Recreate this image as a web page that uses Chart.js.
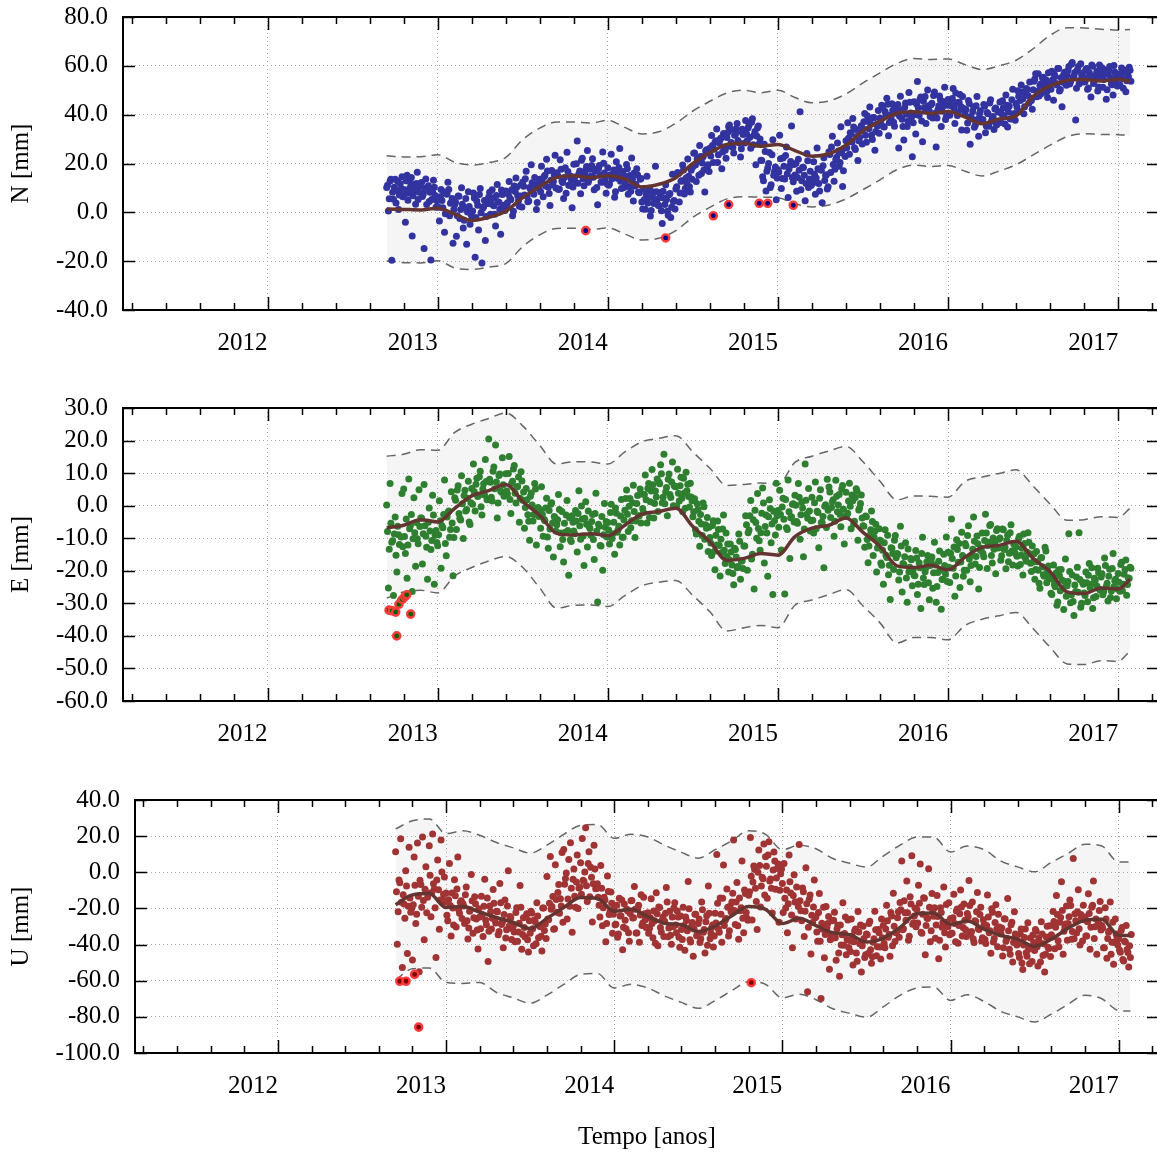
<!DOCTYPE html>
<html>
<head>
<meta charset="utf-8">
<script src="https://cdn.jsdelivr.net/npm/chart.js@4.4.1/dist/chart.umd.min.js"></script>
<style>
  html, body { margin: 0; padding: 0; background: #fff; overflow: hidden; }
  canvas { position: absolute; left: 0; }
</style>
</head>
<body>
<canvas id="chartN" width="1160" height="390" style="top:0"></canvas>
<canvas id="chartE" width="1160" height="390" style="top:390px"></canvas>
<canvas id="chartU" width="1160" height="373" style="top:780px"></canvas>
<script>
// year tick labels on the time axis
const xYears = [2012, 2013, 2014, 2015, 2016, 2017];
const yTicksN = [-40, -20, 0, 20, 40, 60, 80];
const yTicksE = [-60, -50, -40, -30, -20, -10, 0, 10, 20, 30];
const yTicksU = [-100, -80, -60, -40, -20, 0, 20, 40];

// epochs of the smoothed model curve and its envelope
const bandYears = [2012.7, 2012.8, 2012.9, 2013.0, 2013.1, 2013.2, 2013.3, 2013.4, 2013.5, 2013.6,
  2013.7, 2013.8, 2013.9, 2014.0, 2014.1, 2014.2, 2014.3, 2014.4, 2014.5, 2014.6,
  2014.7, 2014.8, 2014.9, 2015.0, 2015.1, 2015.2, 2015.3, 2015.4, 2015.5, 2015.6,
  2015.7, 2015.8, 2015.9, 2016.0, 2016.1, 2016.2, 2016.3, 2016.4, 2016.5, 2016.6,
  2016.7, 2016.8, 2016.9, 2017.0, 2017.07];

const nLine = [1.4, 1.2, 1.0, 1.7, -0.7, -3.3, -2.0, 0.5, 6.0, 10.6, 14.3, 15.0, 14.2, 15.0, 13.7, 10.4, 11.5, 14.2, 20.0, 24.5,
  27.8, 28.3, 27.1, 27.8, 25.3, 23.0, 24.0, 27.5, 33.3, 37.3, 40.6, 41.2, 40.5, 41.3, 39.0, 36.3, 38.2, 39.5, 47.5, 51.8,
  54.0, 54.4, 53.8, 54.5, 53.6];
const nUpper = [23.2, 22.7, 22.8, 23.6, 20.5, 19.4, 20.3, 22.5, 29.8, 34.5, 37.0, 37.0, 36.6, 37.7, 34.8, 32.1, 33.0, 36.5, 41.5, 45.5,
  48.9, 50.0, 49.0, 50.0, 47.0, 44.9, 45.6, 48.5, 53.0, 57.1, 61.0, 63.0, 62.6, 62.8, 60.5, 58.5, 60.0, 62.3, 67.0, 72.5,
  75.6, 75.5, 75.0, 74.6, 74.9];
const nLower = [-19.9, -20.6, -20.7, -19.8, -22.8, -23.4, -22.4, -21.0, -14.0, -9.2, -6.6, -6.5, -7.0, -6.4, -8.9, -11.3, -10.6, -7.5, -2.0, 2.0,
  5.5, 6.4, 6.2, 6.0, 3.5, 2.2, 3.0, 5.5, 9.3, 13.3, 17.5, 19.3, 18.8, 19.2, 16.8, 14.9, 16.9, 19.5, 23.5, 27.5,
  31.0, 32.2, 31.9, 31.8, 31.5];

const eLine = [-6.8, -6.0, -4.3, -5.0, -0.8, 3.0, 4.6, 6.5, 1.3, -3.0, -8.5, -9.0, -8.6, -9.2, -6.0, -2.6, -1.8, -0.8, -6.4, -11.1,
  -16.8, -16.2, -14.7, -15.2, -9.5, -6.9, -6.0, -3.8, -8.2, -12.5, -18.5, -19.0, -18.3, -19.7, -15.8, -12.8, -12.2, -10.9, -16.2, -20.3,
  -26.5, -27.0, -25.3, -25.6, -22.6];
const eUpper = [15.2, 15.8, 17.2, 17.0, 22.5, 25.0, 26.8, 28.5, 24.5, 18.5, 12.8, 13.5, 13.4, 12.8, 16.5, 19.6, 20.7, 21.5, 16.5, 11.5,
  6.2, 6.5, 7.0, 6.5, 13.3, 15.2, 16.8, 18.2, 13.5, 7.5, 1.8, 3.0, 2.9, 2.6, 7.5, 8.8, 9.9, 11.0, 6.0, 0.5,
  -4.5, -4.3, -3.4, -3.6, -0.8];
const eLower = [-28.4, -26.5, -26.0, -26.8, -21.6, -19.0, -17.0, -15.6, -19.0, -25.3, -31.5, -30.6, -30.5, -31.0, -27.6, -24.6, -23.5, -23.0, -27.6, -32.6,
  -38.5, -37.5, -36.8, -37.5, -30.6, -29.0, -27.3, -25.8, -30.8, -36.0, -42.2, -40.5, -40.5, -41.2, -36.8, -34.9, -33.8, -32.8, -37.8, -43.5,
  -48.6, -48.8, -47.6, -47.8, -44.6];

const uLine = [-18.0, -12.5, -11.8, -19.5, -19.0, -22.0, -25.0, -27.8, -31.2, -25.5, -19.5, -14.0, -14.5, -21.5, -20.5, -24.5, -28.2, -29.0, -32.8, -29.8,
  -24.0, -19.0, -20.5, -28.4, -25.5, -29.5, -33.5, -34.5, -38.6, -36.5, -30.5, -23.0, -22.5, -28.8, -27.0, -31.5, -35.0, -37.0, -41.0, -37.0,
  -31.0, -26.5, -26.0, -34.9, -35.0];
const uUpper = [24.0, 28.5, 29.5, 21.4, 23.0, 20.5, 16.5, 13.5, 10.6, 15.0, 21.0, 26.0, 26.5, 18.8, 21.0, 19.5, 15.0, 11.0, 7.8, 12.5,
  17.5, 23.0, 21.0, 12.5, 15.0, 13.0, 7.6, 5.0, 2.9, 9.0, 15.0, 19.5, 19.5, 11.2, 14.5, 12.5, 6.2, 3.0, 0.3, 5.5,
  10.5, 15.5, 14.5, 5.7, 5.7];
const uLower = [-59.5, -53.4, -53.0, -61.0, -61.5, -61.0, -66.5, -69.5, -72.5, -68.0, -62.0, -56.5, -56.0, -64.0, -62.0, -64.0, -68.5, -72.0, -75.3, -71.0,
  -65.5, -60.5, -62.0, -69.5, -67.5, -70.5, -75.5, -78.0, -80.2, -74.5, -68.1, -64.0, -63.5, -70.9, -67.8, -71.5, -77.0, -80.0, -82.8, -78.5,
  -73.0, -68.0, -70.0, -76.5, -76.8];

// observations: two interleaved series, one value every 0.01 yr each
const obsStart = 2012.70;
const obsStep = 0.01;
const obsStartB = 2012.705;

const nObs = [
  10.2, 0.5, 12.8, -19.6, 5.4, 13.5, 8.9, 1.2, 11.7, 14.6,
  9.4, -4.1, 15.2, 7.8, 12.1, -9.7, 10.6, 3.3, 16.4, 8.2,
  11.9, 6.5, -14.8, 13.7, 9.1, 4.4, -19.5, 8.3, 10.3, 2.1,
  5.8, -3.6, 9.4, 1.9, -8.2, 7.5, 12.3, -1.4, 4.1, -12.7,
  3.2, -9.8, 6.7, -2.5, 10.1, -6.4, 1.8, -13.1, 8.4, -4.9,
  -1.7, 7.9, -18.4, 4.6, -7.2, 9.8, -20.8, 2.3, -11.5, 5.1,
  6.3, -0.8, 9.2, 2.7, -5.6, 11.4, 4.1, -9.0, 7.3, 1.5,
  8.7, 3.9, 12.6, 5.2, -1.4, 10.8, 14.1, 6.8, 2.5, 11.3,
  12.4, 7.1, 16.8, 4.3, 10.2, 19.5, 8.6, 14.3, 1.2, 11.7,
  13.5, 18.9, 6.4, 15.2, 21.7, 10.3, 2.8, 17.1, 12.6, 23.4,
  16.2, 9.4, 21.5, 12.8, 5.7, 18.3, 24.6, 11.1, 14.9, 1.9,
  19.7, 12.3, 29.2, 15.8, 7.6, 22.1, 10.9, 17.4, 25.3, 13.6,
  14.8, 21.9, 9.3, 17.6, 3.1, 19.2, 12.4, 24.7, 16.1, 7.8,
  18.3, 11.6, 23.8, 15.4, 6.2, 20.7, 13.9, 26.1, 9.8, 16.7,
  12.2, 19.6, 7.4, 15.1, 22.3, 4.6, 10.8, 17.9, 8.3, 13.5,
  4.2, 9.7, 1.3, 14.8, 6.1, -1.5, 8.4, 3.6, 18.9, 5.3,
  2.7, 8.1, -4.6, 5.9, 11.3, 0.4, 7.2, -2.1, 15.6, 4.8,
  9.6, 16.3, 4.2, 12.7, 19.4, 7.5, 14.1, 21.8, 10.5, 17.2,
  18.7, 24.3, 12.6, 21.1, 27.4, 15.9, 22.8, 8.3, 25.6, 19.5,
  26.2, 31.5, 20.4, 28.7, 34.1, 23.6, 29.9, 17.8, 32.3, 25.4,
  30.6, 35.2, 27.1, 33.8, 24.3, 31.9, 36.4, 28.5, 22.7, 34.0,
  33.1, 37.6, 29.4, 35.8, 26.2, 38.3, 31.7, 19.5, 34.6, 28.1,
  21.3, 14.6, 27.9, 8.7, 18.2, 24.5, 11.3, 29.7, 16.8, 5.2,
  17.4, 31.6, 9.8, 22.3, 13.7, 26.8, 6.1, 19.2, 35.4, 12.5,
  15.3, 8.6, 21.7, 41.2, 12.9, 18.4, 4.7, 24.1, 10.2, 16.8,
  13.2, 20.7, 7.4, 26.3, 11.8, 17.5, 3.9, 22.4, 15.1, 9.6,
  24.8, 16.3, 31.2, 12.7, 21.5, 28.4, 18.9, 35.1, 10.6, 26.2,
  29.3, 36.7, 23.8, 32.1, 38.4, 26.5, 33.9, 21.2, 30.6, 35.5,
  34.2, 40.5, 28.7, 37.3, 43.1, 31.6, 38.8, 25.4, 36.1, 41.7,
  38.6, 43.9, 35.2, 41.3, 46.7, 31.4, 39.8, 44.5, 36.9, 42.1,
  42.4, 26.3, 47.5, 38.1, 29.6, 44.8, 35.2, 49.1, 40.7, 22.8,
  45.3, 32.1, 53.6, 39.7, 47.2, 28.9, 42.8, 36.4, 50.1, 41.5,
  44.1, 38.6, 49.3, 26.8, 41.9, 47.6, 35.2, 43.4, 51.2, 39.1,
  46.2, 39.8, 43.5, 50.7, 36.4, 44.9, 41.1, 48.3, 33.7, 42.6,
  40.3, 33.6, 45.8, 27.9, 38.2, 43.1, 35.7, 47.4, 31.2, 41.6,
  37.8, 44.2, 32.6, 40.9, 35.3, 46.1, 38.5, 33.9, 42.7, 36.4,
  41.2, 36.8, 45.7, 39.3, 48.1, 34.9, 43.6, 38.2, 50.4, 40.5,
  44.6, 49.8, 41.3, 52.1, 46.5, 43.2, 50.7, 47.9, 53.4, 45.8,
  50.2, 54.6, 47.3, 56.8, 51.9, 48.7, 55.3, 53.1, 49.4, 57.2,
  53.4, 57.8, 45.9, 55.6, 52.1, 58.9, 50.3, 43.2, 56.4, 54.7,
  56.2, 59.7, 53.5, 61.4, 55.8, 37.8, 58.3, 52.6, 60.9, 57.1,
  55.1, 58.6, 50.4, 57.3, 47.2, 59.8, 53.9, 56.5, 49.7, 60.3,
  54.8, 51.2, 58.4, 46.3, 56.9, 59.7, 52.7, 48.1, 57.5, 55.3,
  56.7, 52.3, 59.1, 50.8, 57.4, 53.9, 55.6, 58.2
];
const nObsB = [
  11.1, 5.6, 13.6, 8.2, 10.3, 3.8, 12.7, 7.1, 9.4, 6.4,
  7.5, 12.9, 4.9, 9.9, 14.3, 6.8, 8.7, 11.8, 5.3, 10.6,
  12.2, 7.4, 9.8, 3.2, 10.9, 8.2, 5.3, 13.1, 6.9, 4.7,
  2.1, 6.4, 4.8, 8.3, -0.6, 7.5, 9.4, 3.7, 5.7, 1.2,
  4.1, -1.4, 6.6, 1.2, 3.3, -3.2, 5.7, 0.1, 2.4, -0.6,
  0.5, 5.9, -2.1, 2.9, 7.3, -0.2, 1.7, 4.8, -1.7, 3.6,
  8.2, 3.4, 5.8, -0.8, 6.9, 4.2, 1.3, 9.1, 2.9, 0.7,
  3.1, 7.4, 5.8, 9.3, 0.4, 8.5, 10.4, 4.7, 6.7, 2.2,
  10.7, 13.8, 6.6, 4.6, 9.6, 12.1, 7.4, 11.3, 4.0, 9.9,
  8.4, 12.3, 14.6, 10.8, 16.9, 7.7, 13.1, 11.3, 15.4, 10.0,
  15.1, 9.6, 17.6, 12.2, 14.3, 7.8, 16.7, 11.1, 13.4, 10.4,
  14.5, 19.9, 11.9, 16.9, 21.3, 13.8, 15.7, 18.8, 12.3, 17.6,
  19.2, 14.4, 16.8, 10.2, 17.9, 15.2, 12.3, 20.1, 13.9, 11.7,
  11.1, 15.4, 13.8, 17.3, 8.4, 16.5, 18.4, 12.7, 14.7, 10.2,
  14.7, 17.8, 10.6, 8.6, 13.6, 16.1, 11.4, 15.3, 8.0, 13.9,
  1.4, 5.3, 7.6, 3.8, 9.9, 0.7, 6.1, 4.3, 8.4, 3.0,
  6.1, 0.6, 8.6, 3.2, 5.3, -1.2, 7.7, 2.1, 4.4, 1.4,
  10.5, 15.9, 7.9, 12.9, 17.3, 9.8, 11.7, 14.8, 8.3, 13.6,
  24.2, 19.4, 21.8, 15.2, 22.9, 20.2, 17.3, 25.1, 18.9, 16.7,
  23.1, 27.4, 25.8, 29.3, 20.4, 28.5, 30.4, 24.7, 26.7, 22.2,
  32.7, 35.8, 28.6, 26.6, 31.6, 34.1, 29.4, 33.3, 26.0, 31.9,
  28.4, 32.3, 34.6, 30.8, 36.9, 27.7, 33.1, 31.3, 35.4, 30.0,
  21.2, 12.9, 24.9, 16.8, 20.0, 10.2, 23.6, 15.2, 18.6, 14.1,
  16.5, 21.9, 13.9, 18.9, 23.3, 15.8, 17.7, 20.8, 14.3, 19.6,
  20.0, 14.3, 17.2, 9.2, 18.5, 15.2, 11.8, 21.1, 13.7, 11.0,
  11.9, 15.6, 14.1, 17.9, 8.7, 17.2, 19.1, 13.0, 15.4, 10.5,
  23.7, 26.8, 19.6, 17.6, 22.6, 25.1, 20.4, 24.3, 17.0, 22.9,
  26.4, 30.3, 32.6, 28.8, 34.9, 25.7, 31.1, 29.3, 33.4, 28.0,
  37.1, 31.6, 39.6, 34.2, 36.3, 29.8, 38.7, 33.1, 35.4, 32.4,
  37.5, 42.9, 34.9, 39.9, 44.3, 36.8, 38.7, 41.8, 35.3, 40.6,
  44.2, 39.4, 41.8, 35.2, 42.9, 40.2, 37.3, 45.1, 38.9, 36.7,
  40.1, 44.4, 42.8, 46.3, 37.4, 45.5, 47.4, 41.7, 43.7, 39.2,
  44.7, 47.8, 40.6, 38.6, 43.6, 46.1, 41.4, 45.3, 38.0, 43.9,
  40.4, 44.3, 46.6, 42.8, 48.9, 39.7, 45.1, 43.3, 47.4, 42.0,
  42.1, 36.6, 44.6, 39.2, 41.3, 34.8, 43.7, 38.1, 40.4, 37.4,
  38.0, 43.4, 35.4, 40.4, 44.8, 37.3, 39.2, 42.3, 35.8, 41.1,
  45.2, 40.4, 42.8, 36.2, 43.9, 41.2, 38.3, 46.1, 39.9, 37.7,
  43.1, 47.4, 45.8, 49.3, 40.4, 48.5, 50.4, 44.7, 46.7, 42.2,
  53.7, 56.8, 49.6, 47.6, 52.6, 55.1, 50.4, 54.3, 47.0, 52.9,
  50.4, 54.3, 56.6, 52.8, 58.9, 49.7, 55.1, 53.3, 57.4, 52.0,
  58.1, 52.6, 60.6, 55.2, 57.3, 50.8, 59.7, 54.1, 56.4, 53.4,
  53.5, 58.9, 50.9, 55.9, 60.3, 52.8, 54.7, 57.8, 51.3, 56.6,
  59.2, 54.4, 56.8, 50.2, 57.9, 55.2, 52.3, 60.1, 53.9, 51.7,
  52.1, 56.4, 54.8, 58.3, 49.4, 57.5, 59.4, 53.7
];

const eObs = [
  0.2, -25.3, 6.8, -11.2, -27.6, -3.5, -20.4, -8.9, -29.1, 3.7,
  5.1, -14.7, -22.3, 8.2, -6.1, -26.4, 2.4, -18.6, -10.2, 4.9,
  -3.8, -17.9, 6.5, -9.4, -22.6, -0.7, -13.5, 3.2, -24.1, -7.6,
  -12.3, 1.5, -19.2, -6.8, 7.9, -15.4, -2.1, -9.7, 4.3, -21.5,
  2.4, -7.3, 6.1, -3.9, 9.2, -10.1, 4.7, -1.2, 7.5, -5.8,
  5.3, 12.8, -1.6, 8.4, 3.1, 10.6, -2.9, 6.7, 14.2, 1.8,
  20.5, 7.2, 1.4, 11.9, 18.6, -3.8, 9.3, 4.5, 14.7, 2.9,
  9.8, 3.6, 15.1, -2.4, 7.5, 12.3, 0.8, 5.9, -5.1, 10.4,
  1.7, -6.9, 5.3, -2.8, -10.6, 3.9, -4.7, 6.8, -12.1, -0.6,
  -1.2, 5.8, -9.4, -4.6, 2.3, -13.1, -7.2, 0.9, -15.8, -3.7,
  -5.9, 3.4, -12.6, -1.8, -17.3, -8.2, 1.6, -21.4, -10.5, -3.1,
  -7.8, -1.5, -14.2, 4.6, -10.3, -4.1, -18.4, 1.2, -12.7, -6.4,
  -9.1, -2.7, -16.5, 3.8, -29.6, -6.3, -12.4, -19.8, 0.7, -4.9,
  -5.2, -11.8, 0.4, -8.6, -14.9, -2.3, -7.4, -12.1, 1.9, -9.7,
  -1.4, 4.8, -7.9, 2.2, -4.6, 6.3, -9.8, 0.7, -3.2, 5.1,
  3.6, -2.1, 9.4, -5.3, 6.8, 1.2, 11.1, -3.8, 4.5, 8.2,
  7.3, 12.6, 0.9, 15.8, 4.2, -3.1, 9.7, 2.5, 13.4, 6.1,
  5.8, 11.2, 1.4, 8.7, -1.9, 3.9, 10.3, 6.6, -0.4, 2.7,
  -3.4, 2.1, -8.7, -1.2, -12.5, -5.6, 0.8, -10.3, -6.9, -14.1,
  -9.8, -15.3, -4.6, -19.7, -12.1, -7.3, -21.6, -14.4, -2.9, -17.8,
  -15.6, -20.4, -11.8, -18.2, -24.3, -13.5, -19.1, -8.7, -22.6, -16.9,
  -12.4, -3.1, -19.8, -7.5, 1.6, -14.9, -25.6, -5.2, 3.7, -10.8,
  -8.3, 5.4, -17.6, -2.9, -21.7, 1.8, -11.4, -27.3, -4.6, 6.9,
  -1.5, 4.7, -13.6, 2.3, -27.1, -6.8, 7.9, -16.2, -3.4, 0.6,
  3.2, -4.9, 6.8, -10.3, 1.1, -15.7, 12.8, -2.6, 5.3, -7.8,
  2.6, -8.4, 7.3, -1.7, -12.9, 4.9, -5.2, -19.1, 0.3, 8.1,
  5.7, -3.6, 1.2, -9.4, 7.8, -1.9, 3.4, -6.5, 6.2, -11.8,
  4.1, -2.3, 6.9, -7.1, 1.5, -4.8, 5.2, -10.6, -0.7, 3.3,
  -6.2, -12.8, -3.4, -17.5, -9.1, -1.6, -15.3, -7.8, -20.4, -11.2,
  -10.6, -18.3, -24.1, -7.4, -15.9, -21.2, -28.8, -13.1, -19.6, -9.2,
  -14.7, -22.8, -6.3, -26.5, -18.1, -11.4, -29.7, -20.3, -16.2, -24.6,
  -21.4, -13.8, -27.3, -17.5, -31.6, -9.7, -24.2, -19.1, -15.3, -28.9,
  -16.8, -25.4, -11.2, -29.7, -20.5, -13.9, -31.8, -22.6, -18.4, -9.6,
  -14.3, -23.6, -4.1, -19.2, -27.8, -10.5, -17.4, -25.1, -8.2, -21.7,
  -11.6, -19.8, -6.2, -23.4, -15.1, -3.5, -17.9, -9.3, -25.6, -13.7,
  -8.4, -15.7, -2.6, -19.3, -11.2, -5.8, -17.6, -13.4, -20.9, -7.1,
  -10.3, -16.8, -7.2, -13.5, -19.4, -9.1, -14.6, -5.9, -18.2, -12.0,
  -12.7, -18.5, -9.4, -15.2, -21.3, -11.6, -17.1, -8.3, -14.8, -20.2,
  -17.3, -22.6, -14.1, -19.8, -25.4, -15.9, -21.2, -12.8, -23.7, -18.5,
  -21.5, -27.3, -18.2, -24.9, -30.6, -19.7, -26.1, -22.8, -31.9, -16.4,
  -24.6, -8.6, -29.8, -21.3, -33.7, -26.4, -18.9, -8.3, -31.2, -23.5,
  -26.8, -20.4, -29.5, -17.8, -24.1, -31.6, -22.3, -27.9, -19.2, -25.7,
  -21.9, -27.4, -16.1, -24.8, -29.3, -19.5, -26.2, -14.7, -23.1, -28.6,
  -20.8, -26.3, -17.4, -24.1, -19.6, -27.5, -22.2, -18.9
];
const eObsB = [
  -7.9, -13.4, -5.4, -10.8, -8.7, -15.2, -6.3, -11.9, -9.6, -12.6,
  -9.5, -4.1, -12.1, -7.1, -2.7, -10.2, -8.3, -5.2, -11.7, -6.4,
  -3.8, -8.6, -6.2, -12.8, -5.1, -7.8, -10.7, -2.9, -9.1, -11.3,
  -8.9, -4.6, -6.2, -2.7, -11.6, -3.5, -1.6, -7.3, -5.3, -9.8,
  1.7, 4.8, -2.4, -4.4, 0.6, 3.1, -1.6, 2.3, -5.0, 0.9,
  0.4, 4.3, 6.6, 2.8, 8.9, -0.3, 5.1, 3.3, 7.4, 2.0,
  8.1, 2.6, 10.6, 5.2, 7.3, 0.8, 9.7, 4.1, 6.4, 3.4,
  4.5, 9.9, 1.9, 6.9, 11.3, 3.8, 5.7, 8.8, 2.3, 7.6,
  4.2, -0.6, 1.8, -4.8, 2.9, 0.2, -2.7, 5.1, -1.1, -3.3,
  -6.9, -2.6, -4.2, -0.7, -9.6, -1.5, 0.4, -5.3, -3.3, -7.8,
  -4.3, -1.2, -8.4, -10.4, -5.4, -2.9, -7.6, -3.7, -11.0, -5.1,
  -8.6, -4.7, -2.4, -6.2, -0.1, -9.3, -3.9, -5.7, -1.6, -7.0,
  -4.9, -10.4, -2.4, -7.8, -5.7, -12.2, -3.3, -8.9, -6.6, -9.6,
  -7.5, -2.1, -10.1, -5.1, -0.7, -8.2, -6.3, -3.2, -9.7, -4.4,
  2.2, -2.6, -0.2, -6.8, 0.9, -1.8, -4.7, 3.1, -3.1, -5.3,
  -0.9, 3.4, 1.8, 5.3, -3.6, 4.5, 6.4, 0.7, 2.7, -1.8,
  6.7, 9.8, 2.6, 0.6, 5.6, 8.1, 3.4, 7.3, 0.0, 5.9,
  -0.1, 3.8, 6.1, 2.3, 8.4, -0.8, 4.6, 2.8, 6.9, 1.5,
  -1.9, -7.4, 0.6, -4.8, -2.7, -9.2, -0.3, -5.9, -3.6, -6.6,
  -11.5, -6.1, -14.1, -9.1, -4.7, -12.2, -10.3, -7.2, -13.7, -8.4,
  -11.8, -16.6, -14.2, -20.8, -13.1, -15.8, -18.7, -10.9, -17.1, -19.3,
  -12.4, -5.9, -8.3, -3.1, -16.4, -4.3, -1.4, -10.0, -7.0, -13.7,
  -2.3, 0.8, -6.4, -8.4, -3.4, -0.9, -5.6, -1.7, -9.0, -3.1,
  -6.6, -2.7, -0.4, -4.2, 1.9, -7.3, -1.9, -3.7, 0.4, -5.0,
  0.1, -5.4, 2.6, -2.8, -0.7, -7.2, 1.7, -3.9, -1.6, -4.6,
  -4.5, 0.9, -7.1, -2.1, 2.3, -5.2, -3.3, -0.2, -6.7, -1.4,
  4.2, -0.6, 1.8, -4.8, 2.9, 0.2, -2.7, 5.1, -1.1, -3.3,
  -2.9, 1.4, -0.2, 3.3, -5.6, 2.5, 4.4, -1.3, 0.7, -3.8,
  -6.3, -3.2, -10.4, -12.4, -7.4, -4.9, -9.6, -5.7, -13.0, -7.1,
  -17.6, -13.7, -11.4, -15.2, -9.1, -18.3, -12.9, -14.7, -10.6, -16.0,
  -14.9, -20.4, -12.4, -17.8, -15.7, -22.2, -13.3, -18.9, -16.6, -19.6,
  -21.5, -16.1, -24.1, -19.1, -14.7, -22.2, -20.3, -17.2, -23.7, -18.4,
  -15.8, -20.6, -18.2, -24.8, -17.1, -19.8, -22.7, -14.9, -21.1, -23.3,
  -18.9, -14.6, -16.2, -12.7, -21.6, -13.5, -11.6, -17.3, -15.3, -19.8,
  -12.3, -9.2, -16.4, -18.4, -13.4, -10.9, -15.6, -11.7, -19.0, -13.1,
  -14.6, -10.7, -8.4, -12.2, -6.1, -15.3, -9.9, -11.7, -7.6, -13.0,
  -9.9, -15.4, -7.4, -12.8, -10.7, -17.2, -8.3, -13.9, -11.6, -14.6,
  -15.5, -10.1, -18.1, -13.1, -8.7, -16.2, -14.3, -11.2, -17.7, -12.4,
  -14.8, -19.6, -17.2, -23.8, -16.1, -18.8, -21.7, -13.9, -20.1, -22.3,
  -26.9, -22.6, -24.2, -20.7, -29.6, -21.5, -19.6, -25.3, -23.3, -27.8,
  -23.3, -20.2, -27.4, -29.4, -24.4, -21.9, -26.6, -22.7, -30.0, -24.1,
  -27.6, -23.7, -21.4, -25.2, -19.1, -28.3, -22.9, -24.7, -20.6, -26.0,
  -20.9, -26.4, -18.4, -23.8, -21.7, -28.2, -19.3, -24.9, -22.6, -25.6,
  -23.5, -18.1, -26.1, -21.1, -16.7, -24.2, -22.3, -19.2
];

const uObs = [
  11.3, -39.8, -4.2, 18.6, -52.7, -17.5, 0.8, -44.9, 13.9, -22.1,
  -48.6, 8.4, -28.3, 16.2, -55.1, -6.7, 19.5, -37.4, 3.1, -13.8,
  14.7, -24.6, 21.2, -9.3, -47.1, 6.8, -31.5, 17.9, -15.2, -2.6,
  -11.4, -26.8, 4.9, -35.2, -19.7, -4.1, -30.3, 8.5, -22.6, -15.8,
  -17.3, -28.4, -8.1, -36.9, -21.5, -1.2, -33.7, -13.6, -25.9, -42.4,
  -24.8, -13.2, -35.6, -3.9, -29.1, -49.3, -18.7, -31.4, -9.5, -26.3,
  -21.6, -34.5, -6.2, -28.9, -41.7, -15.3, -31.8, 0.9, -24.4, -37.2,
  -29.7, -38.4, -19.6, -33.1, -7.3, -42.6, -25.2, -35.8, -22.9, -44.1,
  -33.8, -22.5, -40.7, -27.4, -16.9, -36.2, -30.1, -43.5, -19.8, -28.6,
  -2.4, -26.3, 8.7, -18.9, -31.5, 4.2, -22.1, -6.8, -14.6, 10.9,
  12.6, -3.5, -25.8, 7.1, 16.4, -33.2, 1.8, -19.4, 9.5, -8.7,
  5.3, 18.7, -4.9, 24.6, -16.2, 11.4, 2.8, -27.5, 14.9, -9.1,
  -6.4, -18.3, 3.7, -29.6, -13.8, -38.5, -2.1, -23.4, -10.9, -33.7,
  -19.2, -28.7, -35.9, -14.3, -24.1, -42.8, -17.6, -31.2, -21.4, -38.1,
  -15.8, -25.3, -7.9, -33.6, -20.2, -38.7, -12.4, -28.1, -22.9, -30.5,
  -22.4, -30.9, -14.7, -36.2, -26.8, -11.3, -40.6, -19.5, -33.1, -24.7,
  -27.1, -8.4, -35.7, -21.6, -39.8, -30.2, -16.9, -33.4, -24.8, -41.5,
  -31.6, -19.3, -43.2, -26.7, -5.1, -37.4, -29.8, -46.5, -23.2, -35.1,
  -28.4, -38.9, -16.5, -33.2, -44.7, -24.1, -7.6, -36.8, -30.5, -41.3,
  -22.6, 9.8, -31.4, -14.2, -38.7, 4.1, -26.5, -9.3, -35.2, -18.6,
  -16.4, 17.8, -28.9, -5.7, -37.1, -21.3, 6.2, -33.5, -11.8, -25.4,
  -12.7, 19.3, -26.4, 3.5, -8.9, -31.6, 12.4, -19.2, -2.8, 15.7,
  8.6, -14.3, 16.9, -3.7, -22.5, 11.2, -9.4, 2.1, -27.6, -0.8,
  -6.2, 4.8, -19.7, -33.4, 9.6, -11.5, -41.8, -1.3, -25.9, -16.4,
  15.4, -21.3, -8.7, -35.6, 2.5, -66.1, -14.9, -45.2, -27.8, -4.3,
  -24.6, -38.2, -11.7, -69.8, -31.5, -47.3, -18.9, -28.4, -53.6, -35.1,
  -36.4, -22.1, -48.7, -29.3, -57.5, -40.2, -16.8, -33.9, -45.6, -26.4,
  -37.8, -25.9, -51.3, -32.4, -44.6, -21.7, -39.5, -55.2, -29.8, -47.1,
  -34.2, -44.9, -27.1, -50.3, -38.7, -21.5, -46.2, -31.6, -41.4, -25.8,
  -29.5, -41.7, -18.3, -35.9, -46.4, -24.2, -11.6, -38.3, -32.7, -21.9,
  -16.7, 6.3, -31.2, -22.4, -4.8, -37.6, -13.5, 9.1, -27.9, -19.8,
  -20.6, -7.2, 4.6, -33.8, -14.1, -45.7, -25.3, 1.9, -38.4, -11.7,
  -24.3, -36.5, -12.9, -47.8, -19.6, -30.4, -8.2, -41.3, -27.5, -16.8,
  -25.6, -33.7, -12.1, -38.5, -20.3, -29.4, -9.8, -35.2, -17.6, -31.8,
  -22.8, -4.6, -34.1, -16.5, -38.9, -27.3, -11.2, -31.7, -19.4, -36.2,
  -28.7, -39.4, -12.6, -33.5, -44.8, -22.1, -36.7, -17.9, -41.2, -30.3,
  -33.9, -46.3, -25.7, -38.2, -14.5, -42.6, -29.1, -49.7, -21.8, -36.4,
  -39.6, -47.2, -31.4, -53.8, -36.1, -44.5, -27.9, -50.6, -41.8, -34.7,
  -43.3, -32.6, -51.9, -38.7, -27.4, -46.1, -55.2, -35.8, -41.5, -29.6,
  -34.5, -21.7, -42.3, -12.8, -37.9, -27.6, -5.2, -45.4, -30.1, -18.6,
  -28.3, -15.4, -37.1, 7.6, -22.9, -33.6, -9.7, -40.2, -25.1, -18.3,
  -24.7, -35.2, -11.9, -42.6, -19.3, -4.8, -30.1, -45.3, -27.6, -16.2,
  -29.4, -41.8, -19.6, -47.5, -33.2, -16.4, -38.7, -50.9, -25.8, -36.1,
  -36.8, -44.3, -30.5, -49.1, -38.6, -42.7, -52.4, -47.2
];
const uObsB = [
  -10.8, -21.8, -5.8, -16.6, -12.4, -25.4, -7.6, -18.8, -14.2, -20.2,
  -18.0, -7.2, -23.2, -13.2, -4.4, -19.4, -15.6, -9.4, -22.4, -11.8,
  -1.6, -11.2, -6.4, -19.6, -4.2, -9.6, -15.4, 0.2, -12.2, -16.6,
  -23.8, -15.2, -18.4, -11.4, -29.2, -13.0, -9.2, -20.6, -16.6, -25.6,
  -18.6, -12.4, -26.8, -30.8, -20.8, -15.8, -25.2, -17.4, -32.0, -20.2,
  -31.2, -23.4, -18.8, -26.4, -14.2, -32.6, -21.8, -25.4, -17.2, -28.0,
  -21.8, -32.8, -16.8, -27.6, -23.4, -36.4, -18.6, -29.8, -25.2, -31.2,
  -33.0, -22.2, -38.2, -28.2, -19.4, -34.4, -30.6, -24.4, -37.4, -26.8,
  -21.6, -31.2, -26.4, -39.6, -24.2, -29.6, -35.4, -19.8, -32.2, -36.6,
  -25.8, -17.2, -20.4, -13.4, -31.2, -15.0, -11.2, -22.6, -18.6, -27.6,
  -6.6, -0.4, -14.8, -18.8, -8.8, -3.8, -13.2, -5.4, -20.0, -8.2,
  -12.2, -4.4, 0.2, -7.4, 4.8, -13.6, -2.8, -6.4, 1.8, -9.0,
  -13.8, -24.8, -8.8, -19.6, -15.4, -28.4, -10.6, -21.8, -17.2, -23.2,
  -29.0, -18.2, -34.2, -24.2, -15.4, -30.4, -26.6, -20.4, -33.4, -22.8,
  -15.6, -25.2, -20.4, -33.6, -18.2, -23.6, -29.4, -13.8, -26.2, -30.6,
  -33.8, -25.2, -28.4, -21.4, -39.2, -23.0, -19.2, -30.6, -26.6, -35.6,
  -22.6, -16.4, -30.8, -34.8, -24.8, -19.8, -29.2, -21.4, -36.0, -24.2,
  -37.2, -29.4, -24.8, -32.4, -20.2, -38.6, -27.8, -31.4, -23.2, -34.0,
  -25.8, -36.8, -20.8, -31.6, -27.4, -40.4, -22.6, -33.8, -29.2, -35.2,
  -28.0, -17.2, -33.2, -23.2, -14.4, -29.4, -25.6, -19.4, -32.4, -21.8,
  -11.6, -21.2, -16.4, -29.6, -14.2, -19.6, -25.4, -9.8, -22.2, -26.6,
  -10.8, -2.2, -5.4, 1.6, -16.2, 0.0, 3.8, -7.6, -3.6, -12.6,
  3.4, 9.6, -4.8, -8.8, 1.2, 6.2, -3.2, 4.6, -10.0, 1.8,
  -22.2, -14.4, -9.8, -17.4, -5.2, -23.6, -12.8, -16.4, -8.2, -19.0,
  -15.8, -26.8, -10.8, -21.6, -17.4, -30.4, -12.6, -23.8, -19.2, -25.2,
  -33.0, -22.2, -38.2, -28.2, -19.4, -34.4, -30.6, -24.4, -37.4, -26.8,
  -26.6, -36.2, -31.4, -44.6, -29.2, -34.6, -40.4, -24.8, -37.2, -41.6,
  -43.8, -35.2, -38.4, -31.4, -49.2, -33.0, -29.2, -40.6, -36.6, -45.6,
  -34.6, -28.4, -42.8, -46.8, -36.8, -31.8, -41.2, -33.4, -48.0, -36.2,
  -39.2, -31.4, -26.8, -34.4, -22.2, -40.6, -29.8, -33.4, -25.2, -36.0,
  -20.8, -31.8, -15.8, -26.6, -22.4, -35.4, -17.6, -28.8, -24.2, -30.2,
  -28.0, -17.2, -33.2, -23.2, -14.4, -29.4, -25.6, -19.4, -32.4, -21.8,
  -19.6, -29.2, -24.4, -37.6, -22.2, -27.6, -33.4, -17.8, -30.2, -34.6,
  -33.8, -25.2, -28.4, -21.4, -39.2, -23.0, -19.2, -30.6, -26.6, -35.6,
  -24.6, -18.4, -32.8, -36.8, -26.8, -21.8, -31.2, -23.4, -38.0, -26.2,
  -37.2, -29.4, -24.8, -32.4, -20.2, -38.6, -27.8, -31.4, -23.2, -34.0,
  -30.8, -41.8, -25.8, -36.6, -32.4, -45.4, -27.6, -38.8, -34.2, -40.2,
  -45.0, -34.2, -50.2, -40.2, -31.4, -46.4, -42.6, -36.4, -49.4, -38.8,
  -31.6, -41.2, -36.4, -49.6, -34.2, -39.6, -45.4, -29.8, -42.2, -46.6,
  -35.8, -27.2, -30.4, -23.4, -41.2, -25.0, -21.2, -32.6, -28.6, -37.6,
  -24.6, -18.4, -32.8, -36.8, -26.8, -21.8, -31.2, -23.4, -38.0, -26.2,
  -35.2, -27.4, -22.8, -30.4, -18.2, -36.6, -25.8, -29.4, -21.2, -32.0,
  -30.8, -41.8, -25.8, -36.6, -32.4, -45.4, -27.6, -38.8, -34.2, -40.2,
  -43.0, -32.2, -48.2, -38.2, -29.4, -44.4, -40.6, -34.4
];

// rejected observations (outliers)
const nOutX = [2013.87, 2014.34, 2014.62, 2014.71, 2014.89, 2014.94, 2015.09];
const nOutY = [-7.5, -10.5, -1.4, 3.2, 3.7, 3.7, 2.9];
const eOutX = [2012.714, 2012.733, 2012.753, 2012.772, 2012.792, 2012.806, 2012.818, 2012.841, 2012.759];
const eOutY = [-32.1, -32.3, -32.7, -30.3, -28.8, -28.0, -27.4, -33.3, -40.0];
const uOutX = [2012.725, 2012.762, 2012.813, 2012.837, 2014.815];
const uOutY = [-60.3, -60.3, -56.5, -85.7, -61.1];

Chart.defaults.font.family = "'Liberation Serif', 'Times New Roman', serif";
Chart.defaults.font.size = 25;
Chart.defaults.color = '#000';
Chart.defaults.animation = false;

const xMin = 2011.15, xMax = 2017.24;

function toPoints(xs, ys) {
    return xs.map((x, i) => ({ x: x, y: ys[i] }));
}
function obsPoints(ys, start) {
    return ys.map((y, i) => ({ x: start + i * obsStep, y: y }));
}
function noPadding(s) {
    s.paddingTop = 0; s.paddingBottom = 0; s.paddingLeft = 0; s.paddingRight = 0;
}

// box frame with inward ticks on all four sides
const frameTicks = {
    id: 'frameTicks',
    afterDraw(chart) {
        const { ctx, chartArea: a, scales: { x, y } } = chart;
        ctx.save();
        ctx.strokeStyle = '#000';
        ctx.lineWidth = 1.5;
        ctx.beginPath();
        y.ticks.forEach(t => {
            const py = Math.round(y.getPixelForValue(t.value)) + 0.5;
            ctx.moveTo(a.left, py); ctx.lineTo(a.left + 12, py);
            ctx.moveTo(a.right, py); ctx.lineTo(a.right - 12, py);
        });
        for (let k = Math.ceil(x.min * 5); k <= Math.floor(x.max * 5); k++) {
            const px = Math.round(x.getPixelForValue(k / 5)) + 0.5;
            const len = k % 5 === 0 ? 13 : 7;
            ctx.moveTo(px, a.bottom); ctx.lineTo(px, a.bottom - len);
            ctx.moveTo(px, a.top); ctx.lineTo(px, a.top + len);
        }
        ctx.stroke();
        ctx.lineWidth = 2;
        ctx.strokeRect(a.left, a.top, a.right - a.left, a.bottom - a.top);
        ctx.restore();
    }
};

function makePanel(id, p) {
    const gridStyle = { color: '#a8a8a8', lineWidth: 1, drawTicks: false };
    const borderStyle = { display: false, dash: [1, 3] };
    const obsStyle = { pointRadius: 3.5, borderWidth: 0, backgroundColor: p.color, order: 2 };
    return new Chart(document.getElementById(id), {
        type: 'scatter',
        data: {
            datasets: [
                {
                    label: 'model', data: toPoints(bandYears, p.line), showLine: true,
                    borderColor: '#643530', borderWidth: 3.5, pointRadius: 0,
                    cubicInterpolationMode: 'monotone', order: 0
                },
                {
                    label: 'outliers', data: toPoints(p.outX, p.outY),
                    pointRadius: 3.6, borderWidth: 2.4, borderColor: '#ff3a3a',
                    backgroundColor: p.outColor, order: 1
                },
                Object.assign({ label: 'obs', data: obsPoints(p.obs, obsStart) }, obsStyle),
                Object.assign({ label: 'obs2', data: obsPoints(p.obsB, obsStartB) }, obsStyle),
                {
                    label: 'upper', data: toPoints(bandYears, p.upper), showLine: true,
                    fill: '+1', backgroundColor: '#f5f5f5',
                    borderColor: '#666666', borderWidth: 1.5, borderDash: [9, 6],
                    pointRadius: 0, cubicInterpolationMode: 'monotone', order: 3
                },
                {
                    label: 'lower', data: toPoints(bandYears, p.lower), showLine: true,
                    borderColor: '#666666', borderWidth: 1.5, borderDash: [9, 6],
                    pointRadius: 0, cubicInterpolationMode: 'monotone', order: 3
                }
            ]
        },
        options: {
            responsive: false,
            layout: { autoPadding: false, padding: { top: p.top, right: 1, left: 0, bottom: 0 } },
            plugins: {
                legend: { display: false },
                tooltip: { enabled: false },
                filler: { drawTime: 'beforeDraw' }
            },
            scales: {
                x: {
                    type: 'linear', min: xMin, max: xMax,
                    afterBuildTicks: s => { s.ticks = xYears.map(v => ({ value: v })); },
                    afterFit: s => { s.height = p.xh; noPadding(s); },
                    grid: gridStyle, border: borderStyle,
                    ticks: { align: 'end', padding: 18, maxRotation: 0, autoSkip: false, callback: v => String(v) },
                    title: { display: !!p.xTitle, text: p.xTitle || '', padding: { top: 0, bottom: 1 } }
                },
                y: {
                    type: 'linear', min: p.yTicks[0], max: p.yTicks[p.yTicks.length - 1],
                    afterBuildTicks: s => { s.ticks = p.yTicks.map(v => ({ value: v })); },
                    afterFit: s => { s.width = p.yw; noPadding(s); },
                    grid: gridStyle, border: borderStyle,
                    ticks: { padding: 15, autoSkip: false, callback: v => v.toFixed(1) },
                    title: { display: true, text: p.yTitle, padding: { top: 6, bottom: 0 } }
                }
            }
        },
        plugins: [frameTicks]
    });
}

makePanel('chartN', {
    line: nLine, upper: nUpper, lower: nLower, obs: nObs, obsB: nObsB, outX: nOutX, outY: nOutY,
    color: '#3333a0', outColor: '#000080', yTicks: yTicksN, yTitle: 'N [mm]',
    top: 17, xh: 80, yw: 123
});
makePanel('chartE', {
    line: eLine, upper: eUpper, lower: eLower, obs: eObs, obsB: eObsB, outX: eOutX, outY: eOutY,
    color: '#2f7f30', outColor: '#006400', yTicks: yTicksE, yTitle: 'E [mm]',
    top: 18, xh: 79, yw: 123
});
makePanel('chartU', {
    line: uLine, upper: uUpper, lower: uLower, obs: uObs, obsB: uObsB, outX: uOutX, outY: uOutY,
    color: '#a03333', outColor: '#800000', yTicks: yTicksU, yTitle: 'U [mm]',
    top: 20, xh: 100, yw: 135, xTitle: 'Tempo [anos]'
});
</script>
</body>
</html>
